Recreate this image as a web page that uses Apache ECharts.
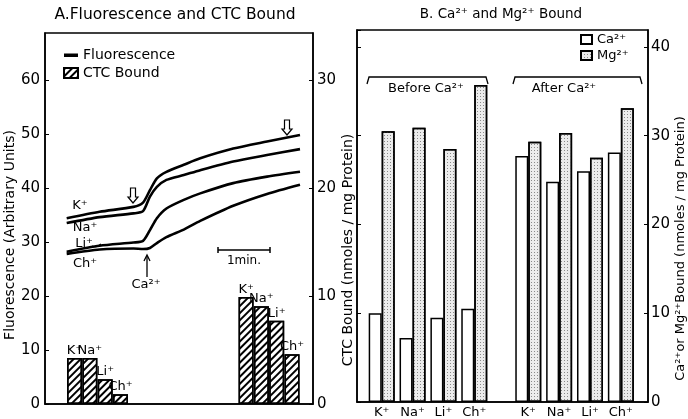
<!DOCTYPE html>
<html>
<head>
<meta charset="utf-8">
<script src="https://cdn.jsdelivr.net/npm/echarts@6/dist/echarts.min.js"></script>
<style>html,body{margin:0;padding:0;background:#fff}#main{width:688px;height:419px}</style>
</head>
<body>
<div id="main"></div>
<script>
// A: fluorescence traces, time in seconds, arbitrary units
var traceTime = [25, 63, 102, 113, 121, 129, 140, 160, 179, 217, 256, 294];
var traceK  = [34.4, 35.6, 36.5, 37.3, 39.6, 41.8, 43.0, 44.3, 45.5, 47.3, 48.6, 49.8];
var traceNa = [33.5, 34.6, 35.3, 35.7, 38.4, 40.2, 41.5, 42.4, 43.3, 44.9, 46.1, 47.2];
var traceLi = [28.2, 29.3, 29.9, 30.2, 32.2, 34.4, 36.2, 37.8, 39.0, 40.9, 42.1, 43.0];
var traceCh = [27.8, 28.6, 28.8, 28.7, 28.9, 29.8, 30.9, 32.3, 33.9, 36.7, 38.9, 40.6];

// A: CTC bound (nmoles / mg protein), before and after Ca2+
var ions = ['K⁺', 'Na⁺', 'Li⁺', 'Ch⁺'];
var ctcBefore = [4.25, 4.25, 2.3, 0.9];
var ctcAfter  = [9.9, 9.05, 7.7, 4.6];

// B: Ca2+ and Mg2+ bound (nmoles / mg protein)
var caBefore = [10.0, 7.2, 9.5, 10.5];
var mgBefore = [30.5, 30.9, 28.5, 35.7];
var caAfter  = [27.7, 24.8, 26.0, 28.1];
var mgAfter  = [29.3, 30.3, 27.5, 33.1];

var chart = echarts.init(document.getElementById('main'));
var FONT = 'DejaVu Sans';

function pairs(xs, ys) { return xs.map(function (x, i) { return [x, ys[i]]; }); }

// slot layout: A bars 1 unit = 1 bar width, B pairs 1 unit = one ion
var ctcPos = ions.map(function (_, i) { return 1.93 + i; }).concat(ions.map(function (_, i) { return 13.13 + i; }));
var ctcVals = ctcBefore.concat(ctcAfter);
var ctcData = ctcVals.map(function (v, i) { return { value: [ctcPos[i], v], name: ions[i % 4] }; });

var bPos = ions.map(function (_, i) { return i; }).concat(ions.map(function (_, i) { return 4.75 + i; }));
var caData = pairs(bPos, caBefore.concat(caAfter));
var mgData = pairs(bPos, mgBefore.concat(mgAfter));
var bLabels = ions.concat(ions);

var hatch = { symbol: 'rect', symbolSize: 1, dashArrayX: [1, 0], dashArrayY: [1.5, 2.5], rotation: -Math.PI / 4, color: '#000' };
var stipple = { symbol: 'rect', symbolSize: 1, dashArrayX: [1, 2], dashArrayY: [1, 2], color: '#8a8a8a' };

function traceSeries(ys) {
  return { name: 'Fluorescence', type: 'line', xAxisIndex: 0, yAxisIndex: 0, data: pairs(traceTime, ys),
    symbol: 'none', smooth: 0.25, lineStyle: { color: '#000', width: 2.6 }, itemStyle: { color: '#000' }, silent: true };
}

var txt = { color: '#000', fontFamily: FONT };
function label(x, y, s, size) {
  return { type: 'text', x: x, y: y, style: { text: s, fill: '#000', font: (size || 13) + 'px "' + FONT + '"', textAlign: 'center', textVerticalAlign: 'middle' } };
}
function openArrow(x, y) {
  return { type: 'polygon', x: x, y: y, shape: { points: [[-2.5, 0], [2.5, 0], [2.5, 9], [5, 9], [0, 15], [-5, 9], [-2.5, 9]] },
    style: { fill: '#fff', stroke: '#000', lineWidth: 1.2 } };
}
function line(pts, w) { return { type: 'polyline', shape: { points: pts }, style: { stroke: '#000', lineWidth: w || 1.5, fill: null } }; }

var axisLineStyle = { color: '#000', width: 1.5 };
var option = {
  animation: false,
  backgroundColor: '#fff',
  textStyle: txt,
  grid: [
    { left: 45, top: 33, width: 268, height: 371, show: true, borderColor: '#000', borderWidth: 1.5 },
    { left: 357, top: 30, width: 295, height: 373, show: true, borderColor: '#000', borderWidth: 1.5 }
  ],
  legend: [
    { orient: 'vertical', left: 63, top: 48, padding: 0, itemWidth: 14, itemHeight: 10, itemGap: 4,
      data: [{ name: 'Fluorescence', icon: 'path://M0,0h0.01M0,3.5h14v3.5h-14zM14,10h0.01' }, { name: 'CTC Bound', icon: 'rect' }],
      textStyle: { fontSize: 14, color: '#000', fontFamily: FONT, lineHeight: 14 } },
    { orient: 'vertical', left: 580, top: 33, padding: 0, itemWidth: 11, itemHeight: 9, itemGap: 3, icon: 'rect',
      data: ['Ca²⁺', 'Mg²⁺'], textStyle: { fontSize: 13, color: '#000', fontFamily: FONT, lineHeight: 13 } }
  ],
  xAxis: [
    { gridIndex: 0, type: 'value', min: 0, max: 309, axisLabel: { show: false }, axisTick: { show: false }, splitLine: { show: false },
      axisLine: { lineStyle: axisLineStyle } },
    { gridIndex: 0, type: 'value', min: 0, max: 17.5, show: false },
    { gridIndex: 1, type: 'value', min: -0.8, max: 8.63, splitLine: { show: false }, axisTick: { show: false },
      axisLine: { onZero: false, lineStyle: axisLineStyle },
      axisLabel: { customValues: bPos, margin: 4, fontSize: 13, color: '#000', fontFamily: FONT,
        formatter: function (v) { var i = bPos.indexOf(v); return i >= 0 ? bLabels[i] : ''; } } }
  ],
  yAxis: [
    { gridIndex: 0, type: 'value', min: 0, max: 68.7, interval: 10, splitLine: { show: false },
      axisLine: { show: true, onZero: false, lineStyle: axisLineStyle }, axisTick: { inside: true, length: 4, lineStyle: { color: '#000' } },
      axisLabel: { showMaxLabel: false, fontSize: 15, color: '#000', margin: 5, fontFamily: FONT },
      name: 'Fluorescence (Arbitrary Units)', nameLocation: 'middle', nameGap: 26,
      nameTextStyle: { fontSize: 14, color: '#000', fontFamily: FONT, padding: [0, 33, 0, 0] } },
    { gridIndex: 0, type: 'value', position: 'right', min: 0, max: 34.35, interval: 10, splitLine: { show: false },
      axisLine: { show: true, onZero: false, lineStyle: axisLineStyle }, axisTick: { inside: true, length: 4, lineStyle: { color: '#000' } },
      axisLabel: { showMaxLabel: false, fontSize: 15, color: '#000', margin: 4, fontFamily: FONT },
      name: 'CTC Bound (nmoles / mg Protein)', nameLocation: 'middle', nameGap: 28,
      nameTextStyle: { fontSize: 14, color: '#000', fontFamily: FONT, padding: [0, 63, 0, 0] } },
    { gridIndex: 1, type: 'value', position: 'left', min: 0, max: 41.9, interval: 10, splitLine: { show: false },
      axisLine: { show: true, onZero: false, lineStyle: axisLineStyle }, axisTick: { inside: true, length: 4, lineStyle: { color: '#000' } },
      axisLabel: { show: false } },
    { gridIndex: 1, type: 'value', position: 'right', min: 0, max: 41.9, interval: 10, splitLine: { show: false },
      axisLine: { show: true, onZero: false, lineStyle: axisLineStyle }, axisTick: { inside: true, length: 4, lineStyle: { color: '#000' } },
      axisLabel: { showMaxLabel: false, fontSize: 15, color: '#000', margin: 3, fontFamily: FONT },
      name: 'Ca²⁺or Mg²⁺Bound (nmoles / mg Protein)', nameLocation: 'middle', nameGap: 22,
      nameTextStyle: { fontSize: 13, color: '#000', fontFamily: FONT, padding: [0, 65, 0, 0] } }
  ],
  series: [
    traceSeries(traceK), traceSeries(traceNa), traceSeries(traceLi), traceSeries(traceCh),
    { name: 'CTC Bound', type: 'bar', xAxisIndex: 1, yAxisIndex: 1, data: ctcData, barWidth: 15,
      itemStyle: { color: '#fff', borderColor: '#000', borderWidth: 1.5, decal: hatch },
      label: { show: true, position: 'top', distance: 1, formatter: '{b}', fontSize: 13, color: '#000', fontFamily: FONT } },
    { name: 'Ca²⁺', type: 'bar', xAxisIndex: 2, yAxisIndex: 3, data: caData, barWidth: 13, barGap: '0%',
      itemStyle: { color: '#fff', borderColor: '#000', borderWidth: 1.5 } },
    { name: 'Mg²⁺', type: 'bar', xAxisIndex: 2, yAxisIndex: 3, data: mgData, barWidth: 13, barGap: '0%',
      itemStyle: { color: '#ececec', borderColor: '#000', borderWidth: 1.5, decal: stipple } }
  ],
  graphic: [
    label(175, 15, 'A.Fluorescence and CTC Bound', 15.5),
    label(501, 14, 'B. Ca²⁺ and Mg²⁺ Bound', 13.5),
    // panel A annotations
    label(80, 206, 'K⁺'), label(85, 228, 'Na⁺'), label(84, 244, 'Li⁺'), label(85, 264, 'Ch⁺'),
    { type: 'bezierCurve', shape: { x1: 92, y1: 246, x2: 101, y2: 244, cpx1: 97, cpy1: 248 }, style: { stroke: '#000', lineWidth: 1.2, fill: null } },
    openArrow(133, 188), openArrow(287, 120),
    line([[147, 277], [147, 256]], 1.3), line([[144, 261], [147, 255], [150, 261]], 1.3),
    label(146, 285, 'Ca²⁺'),
    line([[218, 250], [270, 250]], 1.5), line([[218, 247], [218, 253]], 1.5), line([[270, 247], [270, 253]], 1.5),
    label(244, 261, '1min.', 12),
    // panel B brackets
    line([[367, 84], [369, 77], [486, 77], [488, 84]], 1.3),
    line([[513, 84], [515, 77], [640, 77], [642, 84]], 1.3),
    label(426, 89, 'Before Ca²⁺'), label(564, 89, 'After Ca²⁺')
  ]
};
chart.setOption(option);
</script>
</body>
</html>
